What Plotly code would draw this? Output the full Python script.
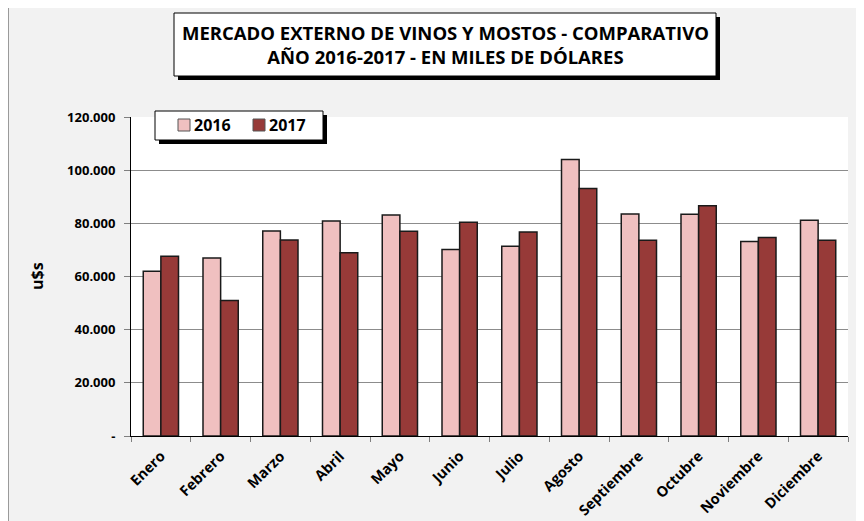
import plotly.graph_objects as go

# values in US dollars (thousands)
months = ["Enero", "Febrero", "Marzo", "Abril", "Mayo", "Junio", "Julio",
          "Agosto", "Septiembre", "Octubre", "Noviembre", "Diciembre"]
vals_2016 = [62000, 67000, 77100, 80900, 83100, 70200, 71400,
             104000, 83500, 83400, 73200, 81200]
vals_2017 = [67600, 51000, 73700, 68900, 77000, 80400, 76700,
             93100, 73600, 86600, 74700, 73600]
tick_vals = [0, 20000, 40000, 60000, 80000, 100000, 120000]
tick_text = ["-", "20.000", "40.000", "60.000", "80.000", "100.000", "120.000"]

COLOR_2016 = "#F0C0C0"
COLOR_2017 = "#973A38"
EDGE = "#1a1a1a"
FONT = "Open Sans"

W, H = 864, 521
OFF = 8  # the page body adds an 8px margin, so shift everything back
L, T = 131 - OFF, 117 - OFF
PW, PH = 717, 319
R, B = W - L - PW, H - T - PH


def px_x(x):
    """page pixel -> paper x"""
    return (x - OFF - L) / PW


def px_y(y):
    """page pixel -> paper y"""
    return (T + PH - (y - OFF)) / PH


def box(x0, y0, x1, y1, fill, line=None):
    return dict(type="rect", xref="paper", yref="paper", layer="above",
                x0=px_x(x0), x1=px_x(x1), y0=px_y(y1), y1=px_y(y0),
                fillcolor=fill,
                line=dict(color=line or "rgba(0,0,0,0)", width=1 if line else 0))


fig = go.Figure()

fig.add_trace(go.Bar(
    name="2016", x=months, y=vals_2016,
    marker=dict(color=COLOR_2016, line=dict(color=EDGE, width=1.5)),
))
fig.add_trace(go.Bar(
    name="2017", x=months, y=vals_2017,
    marker=dict(color=COLOR_2017, line=dict(color=EDGE, width=1.5)),
))

shapes = [
    # outer chart border (left edge)
    dict(type="line", xref="paper", yref="paper", layer="below",
         x0=px_x(8.5), x1=px_x(8.5), y0=px_y(0), y1=px_y(530),
         line=dict(color="#9a9a9a", width=1)),
    # title box with shadow
    box(178, 17, 720, 80, "black"),
    box(174, 13, 716, 76, "white", "black"),
    # legend box with shadow
    box(159, 115, 327, 144, "black"),
    box(155, 111, 323, 140, "white", "black"),
    # legend keys
    box(178, 119, 190, 131, COLOR_2016, "#555555"),
    box(253, 119, 265, 131, COLOR_2017, "#555555"),
]

annotations = [
    dict(text="MERCADO EXTERNO DE VINOS Y MOSTOS - COMPARATIVO<br>AÑO 2016-2017 - EN MILES DE DÓLARES",
         xref="paper", yref="paper", x=px_x(445), y=px_y(44.5),
         xanchor="center", yanchor="middle", showarrow=False,
         font=dict(family=FONT, size=18.5, color="black", weight="bold")),
    dict(text="2016", xref="paper", yref="paper", x=px_x(192), y=px_y(125),
         xanchor="left", yanchor="middle", showarrow=False,
         font=dict(family=FONT, size=16, color="black", weight="bold")),
    dict(text="2017", xref="paper", yref="paper", x=px_x(267), y=px_y(125),
         xanchor="left", yanchor="middle", showarrow=False,
         font=dict(family=FONT, size=16, color="black", weight="bold")),
    dict(text="u$s", xref="paper", yref="paper", x=px_x(37), y=px_y(276),
         xanchor="center", yanchor="middle", showarrow=False, textangle=-90,
         font=dict(family=FONT, size=16, color="black", weight="bold")),
]

fig.update_layout(
    width=W, height=H,
    margin=dict(l=L, r=R, t=T, b=B, autoexpand=False),
    paper_bgcolor="#F2F2F2",
    plot_bgcolor="white",
    barmode="group",
    bargap=0.41,
    bargroupgap=0,
    font=dict(family=FONT, color="black"),
    shapes=shapes,
    annotations=annotations,
    showlegend=False,
    xaxis=dict(
        showline=True, linecolor="black", linewidth=1,
        ticks="outside", tickson="boundaries", ticklen=5, tickcolor="#7f7f7f",
        tickangle=-45, ticklabelstandoff=5,
        tickfont=dict(family=FONT, size=14.5, color="black", weight="bold"),
        showgrid=False, automargin=False,
    ),
    yaxis=dict(
        range=[0, 120000],
        tickvals=tick_vals, ticktext=tick_text,
        showline=True, linecolor="black", linewidth=1,
        ticks="outside", ticklen=6, tickcolor="#7f7f7f",
        ticklabelstandoff=6,
        showgrid=True, gridcolor="#8c8c8c", gridwidth=1,
        zeroline=False, automargin=False,
        tickfont=dict(family=FONT, size=13, color="black", weight="bold"),
    ),
)

fig.write_html("out.html")
